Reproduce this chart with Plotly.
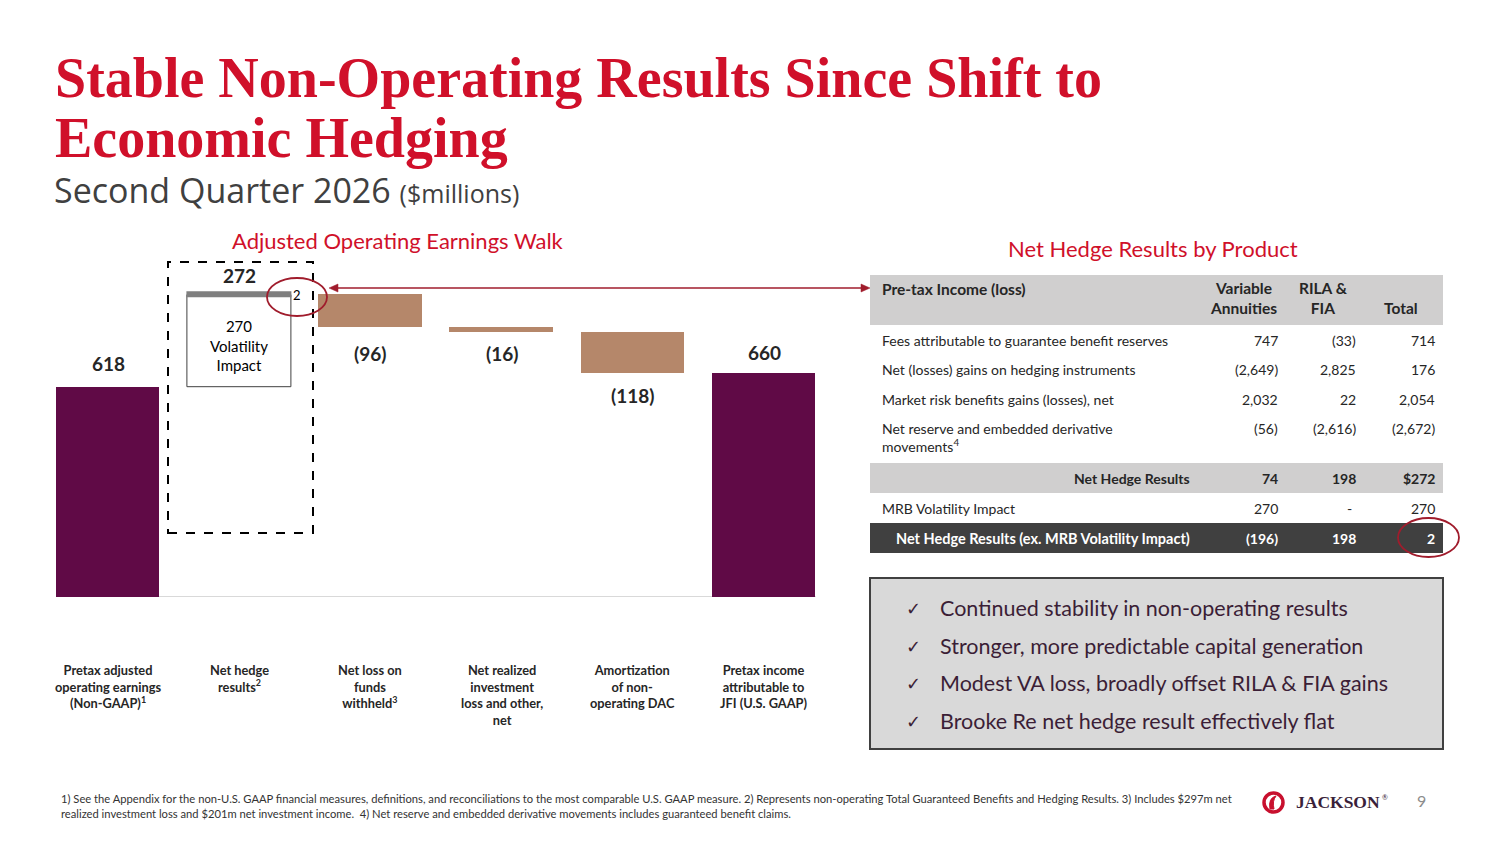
import plotly.graph_objects as go

# ---------------- data ----------------
categories = [
    "Pretax adjusted<br>operating earnings<br>(Non-GAAP)<sup>1</sup>",
    "Net hedge<br>results<sup>2</sup>",
    "Net loss on<br>funds<br>withheld<sup>3</sup>",
    "Net realized<br>investment<br>loss and other,<br>net",
    "Amortization<br>of non-<br>operating DAC",
    "Pretax income<br>attributable to<br>JFI (U.S. GAAP)",
]
start_value = 618
hedge_total = 272
hedge_volatility = 270
hedge_ex_volatility = 2
step_values = [-96, -16, -118]
end_value = 660

bar_labels = ["618", "272", "(96)", "(16)", "(118)", "660"]

table_header = ["Pre-tax Income (loss)", "Variable<br>Annuities", "RILA &<br>FIA", "Total"]
row_labels = [
    "Fees attributable to guarantee benefit reserves",
    "Net (losses) gains on hedging instruments",
    "Market risk benefits gains (losses), net",
    "Net reserve and embedded derivative<br>movements<sup>4</sup>",
]
row_va = ["747", "(2,649)", "2,032", "(56)"]
row_rila = ["(33)", "2,825", "22", "(2,616)"]
row_total = ["714", "176", "2,054", "(2,672)"]
nhr_row = ["Net Hedge Results", "74", "198", "$272"]
mrb_row = ["MRB Volatility Impact", "270", "-", "270"]
ex_row = ["Net Hedge Results (ex. MRB Volatility Impact)", "(196)", "198", "2"]

bullets = [
    "Continued stability in non-operating results",
    "Stronger, more predictable capital generation",
    "Modest VA loss, broadly offset RILA & FIA gains",
    "Brooke Re net hedge result effectively flat",
]

footnote_1 = ("1) See the Appendix for the non-U.S. GAAP financial measures, definitions, and reconciliations to the most "
              "comparable U.S. GAAP measure. 2) Represents non-operating Total Guaranteed Benefits and Hedging Results. "
              "3) Includes $297m net")
footnote_2 = ("realized investment loss and $201m net investment income.  4) Net reserve and embedded derivative movements "
              "includes guaranteed benefit claims.")

# ---------------- styles ----------------
W, H = 1500, 844
PURPLE = "#600A46"
TAN = "#B5876A"
GREY_BAR = "#7F7F7F"
RED = "#D0102A"
DARK_RED = "#A01C2C"
TEXT = "#262626"
FONT = "Lato"


def px(x):
    return x / W


def py(y):
    return 1 - y / H


# ---------------- waterfall geometry from data ----------------
xs = list(range(len(categories)))
after_hedge = start_value + hedge_total
step_bases = []
running = after_hedge
for s in step_values:
    step_bases.append(running)
    running += s

fig = go.Figure()
BW = 0.79

fig.add_trace(go.Bar(x=[xs[0], xs[5]], y=[start_value, end_value], base=[0, 0],
                     width=BW, marker=dict(color=PURPLE, line=dict(width=0)),
                     hoverinfo="skip"))
fig.add_trace(go.Bar(x=[xs[1]], y=[hedge_volatility], base=[start_value], width=BW,
                     marker=dict(color="white", line=dict(color="#404040", width=1)),
                     hoverinfo="skip"))
fig.add_trace(go.Bar(x=[xs[1]], y=[hedge_ex_volatility], base=[start_value + hedge_volatility],
                     width=BW - 0.03, marker=dict(color=GREY_BAR, line=dict(color=GREY_BAR, width=5)),
                     hoverinfo="skip"))
fig.add_trace(go.Bar(x=xs[2:5], y=step_values, base=step_bases, width=BW,
                     marker=dict(color=TAN, line=dict(width=0)), hoverinfo="skip"))

ann = []

label_pos = [
    (xs[0], start_value, "bottom", 10),
    (xs[1], after_hedge, "bottom", 6),
    (xs[2], step_bases[0] + step_values[0], "top", -13),
    (xs[3], step_bases[1] + step_values[1], "top", -7),
    (xs[4], step_bases[2] + step_values[2], "top", -9),
    (xs[5], end_value, "bottom", 7),
]
for (x, y, anc, sh), t in zip(label_pos, bar_labels):
    ann.append(dict(x=x, y=y, xref="x", yref="y", text=f"<b>{t}</b>", showarrow=False,
                    xanchor="center", yanchor=anc, yshift=sh,
                    font=dict(family=FONT, size=19, color=TEXT)))

ann.append(dict(x=xs[1], y=after_hedge, xref="x", yref="y", text=str(hedge_ex_volatility),
                showarrow=False, xanchor="center", xshift=58, yshift=0, yanchor="middle",
                font=dict(family=FONT, size=13, color="black")))
ann.append(dict(x=xs[1], y=start_value + hedge_volatility / 2, xref="x", yref="y",
                text=f"{hedge_volatility}<br>Volatility<br>Impact", showarrow=False,
                xanchor="center", yshift=-4, font=dict(family=FONT, size=15, color="black")))

for x, c in zip(xs, categories):
    ann.append(dict(x=x, y=0, xref="x", yref="y", text=f"<b>{c}</b>", showarrow=False,
                    xanchor="center", yanchor="top", yshift=-63, align="center",
                    font=dict(family=FONT, size=12.8, color=TEXT)))


def cell(x, y, t, anchor="left", color=TEXT, bold=False, size=14, family=FONT):
    txt = f"<b>{t}</b>" if bold else t
    ann.append(dict(x=px(x), y=py(y), xref="paper", yref="paper", xanchor=anchor, yanchor="middle",
                    text=txt, showarrow=False, align=anchor,
                    font=dict(family=family, size=size, color=color)))


# titles
cell(53, 78, "Stable Non-Operating Results Since Shift to", bold=True, size=56, color=RED,
     family="Liberation Serif")
cell(53, 138, "Economic Hedging", bold=True, size=56, color=RED, family="Liberation Serif")
cell(52, 190, "Second Quarter 2026 <span style='font-size:25px'>($millions)</span>", size=34,
     color="#404040", family="Open Sans")

cell(398, 240, "Adjusted Operating Earnings Walk", anchor="center", size=22, color=RED)
cell(1153, 249, "Net Hedge Results by Product", anchor="center", size=22, color=RED)

# ---------------- table ----------------
VA_R, RI_R, TO_R = 1280, 1358, 1437

cell(880, 289, table_header[0], bold=True, size=15.5)
cell(1243, 298, table_header[1], anchor="center", bold=True, size=15.5)
cell(1323, 298, table_header[2], anchor="center", bold=True, size=15.5)
cell(1401, 308, table_header[3], anchor="center", bold=True, size=15.5)

row_y = [340, 369, 399, 437]
for y, lab, a, b, c in zip(row_y, row_labels, row_va, row_rila, row_total):
    cell(880, y, lab)
    vy = 428 if "<br>" in lab else y
    cell(VA_R, vy, a, anchor="right")
    cell(RI_R, vy, b, anchor="right")
    cell(TO_R, vy, c, anchor="right")

cell(1192, 478, nhr_row[0], anchor="right", bold=True)
cell(VA_R, 478, nhr_row[1], anchor="right", bold=True)
cell(RI_R, 478, nhr_row[2], anchor="right", bold=True)
cell(TO_R, 478, nhr_row[3], anchor="right", bold=True)

cell(880, 508, mrb_row[0])
cell(VA_R, 508, mrb_row[1], anchor="right")
cell(RI_R - 4, 508, mrb_row[2], anchor="right")
cell(TO_R, 508, mrb_row[3], anchor="right")

cell(1192, 538, ex_row[0], anchor="right", bold=True, color="white", size=14.5)
cell(VA_R, 538, ex_row[1], anchor="right", bold=True, color="white")
cell(RI_R, 538, ex_row[2], anchor="right", bold=True, color="white")
cell(TO_R, 538, ex_row[3], anchor="right", bold=True, color="white")

# bullets
for i, b in enumerate(bullets):
    y = 608 + i * 37.7
    cell(904, y, "✓", size=18, color="#3B1E36")
    cell(938, y, b, size=21.5, color="#3B1E36")

# footnotes
cell(59, 798, footnote_1, size=11.2, color="#333333")
cell(59, 813, footnote_2, size=11.2, color="#333333")

# logo + page number
cell(1294, 802, "JACKSON", size=17.5, color="#3A1F3A", bold=True, family="Liberation Serif")
cell(1380, 797, "®", size=7, color="#3A1F3A")
cell(1421, 800, "9", anchor="center", size=16, color="#8C8C8C")

# ---------------- shapes ----------------
AY = 288
AL, AR = 329, 870
shapes = [
    dict(type="line", xref="x", yref="y", x0=-BW / 2, x1=xs[-1] + BW / 2, y0=0, y1=0,
         line=dict(color="#D9D9D9", width=2), layer="below"),
    dict(type="rect", xref="paper", yref="paper", x0=px(168), x1=px(313), y0=py(533), y1=py(262),
         line=dict(color="black", width=2, dash="dash")),
    dict(type="circle", xref="paper", yref="paper", x0=px(267), x1=px(327), y0=py(316), y1=py(278),
         line=dict(color=DARK_RED, width=1.8)),
    # double arrow
    dict(type="line", xref="paper", yref="paper", x0=px(AL + 4), x1=px(AR - 4), y0=py(AY), y1=py(AY),
         line=dict(color=DARK_RED, width=1.5)),
    dict(type="path", xref="paper", yref="paper",
         path=f"M {px(AL)} {py(AY)} L {px(AL + 9)} {py(AY - 4)} L {px(AL + 9)} {py(AY + 4)} Z",
         fillcolor=DARK_RED, line=dict(color=DARK_RED, width=0.5)),
    dict(type="path", xref="paper", yref="paper",
         path=f"M {px(AR)} {py(AY)} L {px(AR - 9)} {py(AY - 4)} L {px(AR - 9)} {py(AY + 4)} Z",
         fillcolor=DARK_RED, line=dict(color=DARK_RED, width=0.5)),
    # table bands
    dict(type="rect", xref="paper", yref="paper", x0=px(870), x1=px(1443), y0=py(325), y1=py(275),
         fillcolor="#D0CFCF", line=dict(width=0), layer="below"),
    dict(type="rect", xref="paper", yref="paper", x0=px(870), x1=px(1443), y0=py(493), y1=py(463),
         fillcolor="#D0CFCF", line=dict(width=0), layer="below"),
    dict(type="rect", xref="paper", yref="paper", x0=px(870), x1=px(1443), y0=py(553), y1=py(523),
         fillcolor="#404040", line=dict(width=0), layer="below"),
    dict(type="circle", xref="paper", yref="paper", x0=px(1398), x1=px(1459), y0=py(557), y1=py(518),
         line=dict(color=DARK_RED, width=1.8)),
    # bullet box
    dict(type="rect", xref="paper", yref="paper", x0=px(870), x1=px(1443), y0=py(749), y1=py(578),
         fillcolor="#D9D9D9", line=dict(color="#404040", width=2), layer="below"),
    # logo icon
    dict(type="circle", xref="paper", yref="paper", x0=px(1264), x1=px(1283), y0=py(812), y1=py(793),
         line=dict(color="#C8102E", width=3.5)),
    dict(type="path", xref="paper", yref="paper",
         path=f"M {px(1270)} {py(809)} Q {px(1268)} {py(798)} {px(1276)} {py(796)} "
              f"Q {px(1272)} {py(801)} {px(1274)} {py(809)} Z",
         fillcolor="#C8102E", line=dict(color="#C8102E", width=1)),
]

x_left = 108 - 131.2 / 2
x_right = 764 + 131.2 / 2
y_base = 597
y_top_val = 1000
px_per_unit = 210 / start_value
y_top = y_base - y_top_val * px_per_unit

fig.update_layout(
    width=W, height=H, margin=dict(l=0, r=0, t=0, b=0),
    paper_bgcolor="white", plot_bgcolor="white", showlegend=False,
    barmode="overlay", bargap=0,
    xaxis=dict(domain=[px(x_left), px(x_right)], range=[-0.5, 5.5], visible=False, fixedrange=True),
    yaxis=dict(domain=[py(y_base), py(y_top)], range=[0, y_top_val], visible=False, fixedrange=True),
    annotations=ann, shapes=shapes,
)

fig.write_html("out.html", config={"displayModeBar": False},
               post_script="document.body.style.margin='0';")
